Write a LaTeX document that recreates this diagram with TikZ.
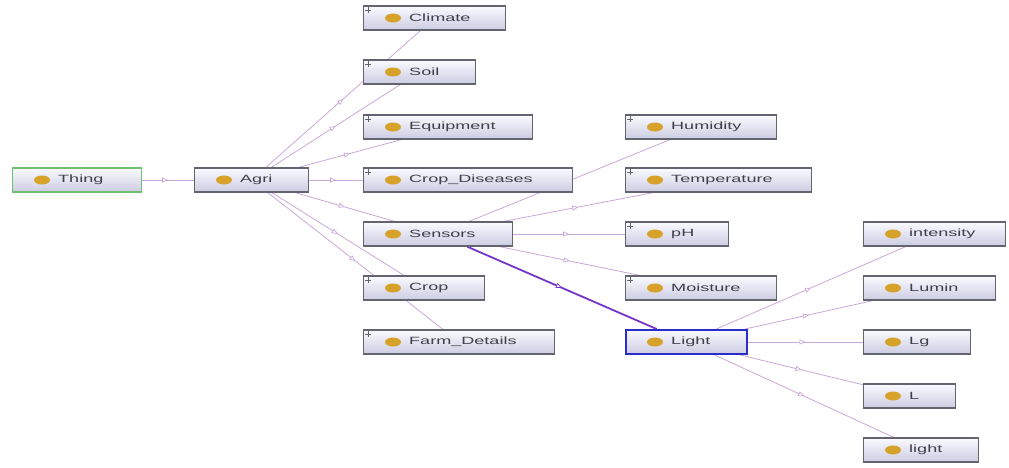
\documentclass[tikz,border=0pt]{standalone}
\usepackage{fontspec}
\newfontfamily\lblfont[FakeStretch=1.72]{Liberation Sans}
\usetikzlibrary{arrows.meta,decorations.markings,backgrounds}

\definecolor{edgecol}{RGB}{200,168,218}
\definecolor{hicol}{RGB}{118,52,200}
\definecolor{boxdraw}{RGB}{100,100,112}
\definecolor{boxtop}{RGB}{250,250,255}
\definecolor{boxbot}{RGB}{204,204,226}
\definecolor{iconcol}{RGB}{214,162,42}
\definecolor{txtcol}{RGB}{64,64,76}
\definecolor{thingcol}{RGB}{112,192,112}
\definecolor{selcol}{RGB}{44,44,205}

\tikzset{
  ogbox/.style={rectangle, draw=boxdraw, line width=1.3pt,
    top color=boxtop, bottom color=boxbot, minimum height=24pt, inner sep=0pt},
  thingbox/.style={draw=thingcol},
  selbox/.style={draw=selcol, line width=2pt},
  oglabel/.style={font=\lblfont\fontsize{10.5}{12}\selectfont, text=txtcol, inner sep=0pt},
  isa/.style={draw=edgecol, line width=0.8pt,
    postaction={decorate, decoration={markings,
      mark=at position 0.5 with {\arrow{Triangle[length=6pt,width=5pt,fill=white,line width=0.7pt]}}}}},
  isahi/.style={isa, draw=hicol, line width=1.8pt},
  plusmark/.style={draw=boxdraw, line width=0.6pt}
}

% class box: name, left x, centre y, width, label, extra style
\newcommand\ogclass[6]{%
  \node[ogbox,#6,minimum width=#4pt,anchor=west] (#1) at (#2,#3) {};
  \fill[iconcol] ([xshift=30pt]#1.west) ellipse (8pt and 4.5pt);
  \node[oglabel,anchor=west] (#1-t) at ([xshift=46pt]#1.west) {#5};
}
% small expand mark in the upper left corner
\newcommand\ogplus[1]{%
  \draw[plusmark] ([xshift=2pt,yshift=-5pt]#1.north west) -- ++(6pt,0pt)
                  ([xshift=5pt,yshift=-2pt]#1.north west) -- ++(0pt,-6pt);
}

\begin{document}
\begin{tikzpicture}[x=1pt,y=-1pt]
  \useasboundingbox (0,0) rectangle (1009,467);

  % classes
  \ogclass{thing}{12}{180}{129}{Thing}{thingbox}
  \ogclass{agri}{194}{180}{114}{Agri}{}
  \ogclass{climate}{363}{18}{142}{Climate}{}
  \ogclass{soil}{363}{72}{112}{Soil}{}
  \ogclass{equip}{363}{127}{169}{Equipment}{}
  \ogclass{disease}{363}{180}{209}{Crop\_Diseases}{}
  \ogclass{sensors}{363}{234}{149}{Sensors}{}
  \ogclass{crop}{363}{288}{121}{Crop}{}
  \ogclass{farm}{363}{342}{191}{Farm\_Details}{}
  \ogclass{humid}{625}{127}{151}{Humidity}{}
  \ogclass{temp}{625}{180}{186}{Temperature}{}
  \ogclass{ph}{625}{234}{103}{pH}{}
  \ogclass{moist}{625}{288}{151}{Moisture}{}
  \ogclass{light}{625}{342}{121}{Light}{selbox}
  \ogclass{intens}{863}{234}{142}{intensity}{}
  \ogclass{lumin}{863}{288}{132}{Lumin}{}
  \ogclass{lg}{863}{342}{107}{Lg}{}
  \ogclass{ell}{863}{396}{92}{L}{}
  \ogclass{lightb}{863}{450}{115}{light}{}

  \foreach \n in {climate,soil,equip,disease,crop,farm,humid,temp,ph,moist}{\ogplus{\n}}

  % subclass connectors, kept behind the class boxes
  \begin{scope}[on background layer]
    \draw[isa] (thing) -- (agri);
    \foreach \c in {climate,soil,equip,disease,sensors,crop,farm}{\draw[isa] (agri) -- (\c);}
    \foreach \c in {humid,temp,ph,moist}{\draw[isa] (sensors) -- (\c);}
    \draw[isahi] (sensors) -- (light);
    \foreach \c in {intens,lumin,lg,ell,lightb}{\draw[isa] (light) -- (\c);}
  \end{scope}
\end{tikzpicture}
\end{document}
